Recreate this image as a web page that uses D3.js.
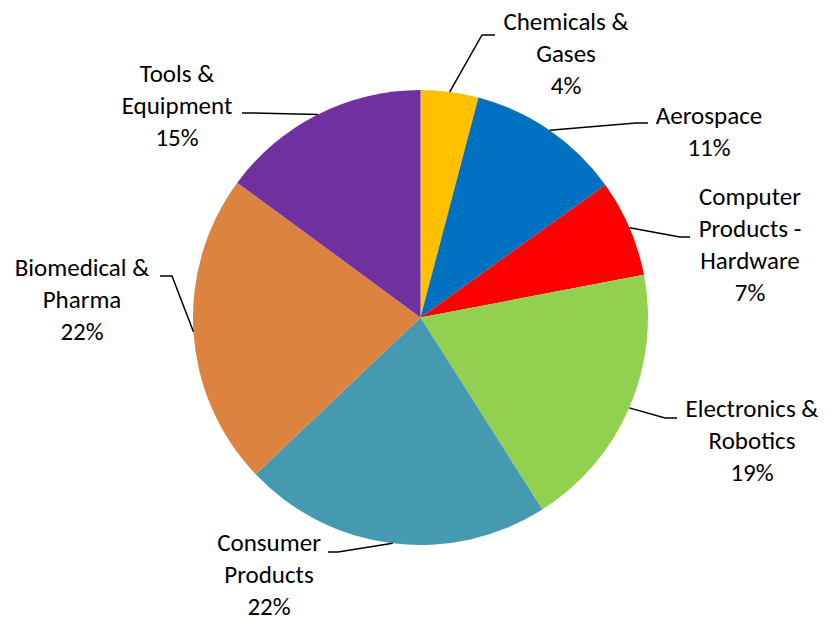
<!DOCTYPE html>
<html>
<head>
<meta charset="utf-8">
<script src="https://cdn.jsdelivr.net/npm/d3@7"></script>
<style>
  body { margin: 0; background: #fff; }
  text { font-family: Carlito, Calibri, Lato, sans-serif; font-size: 25px; fill: #000; }
</style>
</head>
<body>
<div id="chart"></div>
<script>
// data (percent of total)
const categories = ["Chemicals & Gases", "Aerospace", "Computer Products - Hardware",
  "Electronics & Robotics", "Consumer Products", "Biomedical & Pharma", "Tools & Equipment"];
const values = [4.1, 11.0, 6.9, 19.0, 21.9, 22.2, 14.9];
const colors = ["#FFC000", "#0070C0", "#FF0000", "#92D050", "#4599B1", "#DC843F", "#7030A0"];
// how each label breaks into lines
const labelLines = [
  ["Chemicals &", "Gases"],
  ["Aerospace"],
  ["Computer", "Products -", "Hardware"],
  ["Electronics &", "Robotics"],
  ["Consumer", "Products"],
  ["Biomedical &", "Pharma"],
  ["Tools &", "Equipment"]
];

// layout: label centre x, first baseline, leader elbow and end
const labelLayout = [
  { x: 566, y: 30, elbow: [482, 35], end: [495, 35] },
  { x: 709, y: 124, elbow: [636, 123], end: [648, 123] },
  { x: 750, y: 205, elbow: [680, 237], end: [690, 237] },
  { x: 752, y: 417, elbow: [665, 418], end: [677, 418] },
  { x: 269, y: 551, elbow: [338, 552], end: [328, 552] },
  { x: 82, y: 276, elbow: [172, 276], end: [160, 276] },
  { x: 177, y: 82, elbow: [252, 113], end: [242, 113] }
];

const width = 827, height = 622;
const cx = 420.5, cy = 317.5, r = 227.5;
const lineGap = 32;

const svg = d3.select("#chart").append("svg")
  .attr("width", width).attr("height", height);

const total = d3.sum(values);
const pie = d3.pie().sort(null).value(d => d)(values);
const arc = d3.arc().innerRadius(0).outerRadius(r);
const edge = d3.arc().innerRadius(r).outerRadius(r);

const g = svg.append("g").attr("transform", `translate(${cx},${cy})`);

g.selectAll("path.slice")
  .data(pie)
  .enter().append("path")
  .attr("class", "slice")
  .attr("d", arc)
  .attr("fill", (d, i) => colors[i]);

// leader lines
svg.selectAll("polyline.leader")
  .data(pie)
  .enter().append("polyline")
  .attr("class", "leader")
  .attr("fill", "none")
  .attr("stroke", "#000")
  .attr("stroke-width", 1.5)
  .attr("points", (d, i) => {
    const c = edge.centroid(d);
    const L = labelLayout[i];
    return [[cx + c[0], cy + c[1]], L.elbow, L.end].map(p => p.join(",")).join(" ");
  });

// labels
const labels = svg.selectAll("text.label")
  .data(pie)
  .enter().append("text")
  .attr("class", "label")
  .attr("text-anchor", "middle");

labels.each(function(d, i) {
  const L = labelLayout[i];
  const lines = labelLines[i].concat([Math.round(d.data / total * 100) + "%"]);
  d3.select(this).selectAll("tspan")
    .data(lines)
    .enter().append("tspan")
    .attr("x", L.x)
    .attr("y", (t, j) => L.y + j * lineGap)
    .text(t => t);
});
</script>
</body>
</html>
